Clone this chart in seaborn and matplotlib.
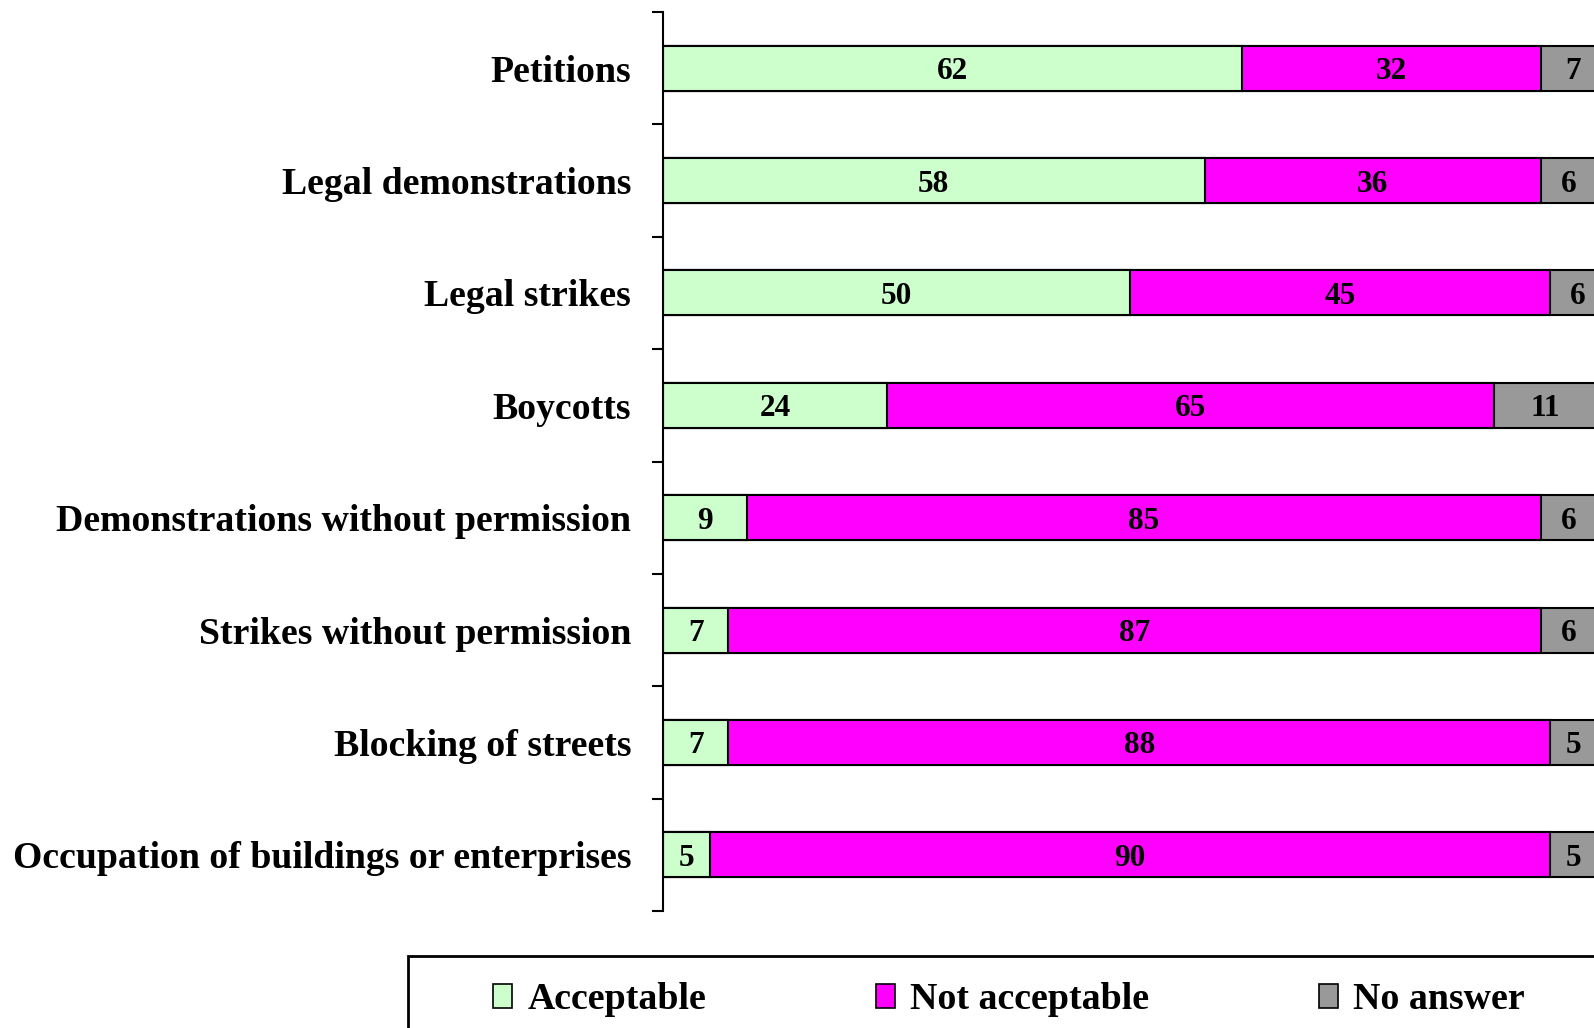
import matplotlib
matplotlib.use("Agg")
import matplotlib.pyplot as plt
import matplotlib.patches as mpatches
import seaborn as sns
import pandas as pd
import numpy as np

# data (percent)
actions = ["Petitions", "Legal demonstrations", "Legal strikes", "Boycotts",
           "Demonstrations without permission", "Strikes without permission",
           "Blocking of streets", "Occupation of buildings or enterprises"]
acceptable = [62, 58, 50, 24, 9, 7, 7, 5]
not_acceptable = [32, 36, 45, 65, 85, 87, 88, 90]
no_answer = [7, 6, 6, 11, 6, 6, 5, 5]

series_names = ["Acceptable", "Not acceptable", "No answer"]
colors = ["#CCFFCC", "#FF00FF", "#999999"]

sns.set_style("white")
plt.rcParams["font.family"] = ["Liberation Serif", "DejaVu Serif"]
plt.rcParams["font.weight"] = "bold"
plt.rcParams["text.color"] = "black"
plt.rcParams["ytick.color"] = "black"
plt.rcParams["ytick.labelcolor"] = "black"

df = pd.DataFrame({"action": actions, "Acceptable": acceptable,
                   "Not acceptable": not_acceptable, "No answer": no_answer})
df["c1"] = df["Acceptable"]
df["c2"] = df["c1"] + df["Not acceptable"]
df["c3"] = df["c2"] + df["No answer"]

fig = plt.figure(figsize=(15.94, 10.28), dpi=100)
ax = fig.add_axes([663 / 1594, 1 - 911 / 1028, 1 - 663 / 1594, (911 - 12) / 1028])

# stacked bars drawn back to front from cumulative totals
for col, color in zip(["c3", "c2", "c1"], colors[::-1]):
    sns.barplot(data=df, x=col, y="action", orient="h", color=color,
                width=0.4, edgecolor="black", linewidth=1.5, saturation=1,
                ax=ax)

# segment labels
for i, row in df.iterrows():
    lefts = [0, row["c1"], row["c2"]]
    vals = [row["Acceptable"], row["Not acceptable"], row["No answer"]]
    for l, v in zip(lefts, vals):
        ax.text(l + v / 2, i, str(v), ha="center", va="center_baseline",
                fontsize=22.5, fontweight="bold", color="black")

ax.set_xlim(0, 99.7)
ax.set_ylim(len(actions) - 0.5, -0.5)
ax.set_xlabel("")
ax.set_ylabel("")
ax.set_xticks([])
for s in ["top", "right", "bottom"]:
    ax.spines[s].set_visible(False)
ax.spines["left"].set_color("black")
ax.spines["left"].set_linewidth(1.5)

ax.set_yticks(range(len(actions)))
ax.set_yticklabels(actions, fontsize=27.2, fontweight="bold", color="black")
ax.tick_params(axis="y", which="major", length=0, pad=23, left=True)
ax.set_yticks(np.arange(-0.5, len(actions)), minor=True)
ax.tick_params(axis="y", which="minor", length=8, width=1.5, direction="out",
               color="black", left=True)

# legend
handles = [mpatches.Patch(facecolor=c, edgecolor="black", linewidth=1.2)
           for c in colors]
fig.legend(handles, series_names, loc="upper left",
           bbox_to_anchor=(493 / 1594, 1 - 982 / 1028), ncol=3,
           frameon=False, handlelength=0.5, handleheight=0.6,
           handletextpad=0.4, columnspacing=4.48, borderpad=0, borderaxespad=0,
           prop={"weight": "bold", "size": 27.3})
fig.patches.append(mpatches.Rectangle((408 / 1594, -0.1), 1.0, 0.1 + 1 - 956 / 1028,
                                      transform=fig.transFigure, fill=False,
                                      edgecolor="black", linewidth=2))

fig.savefig("out.png", dpi=100, facecolor="white")
